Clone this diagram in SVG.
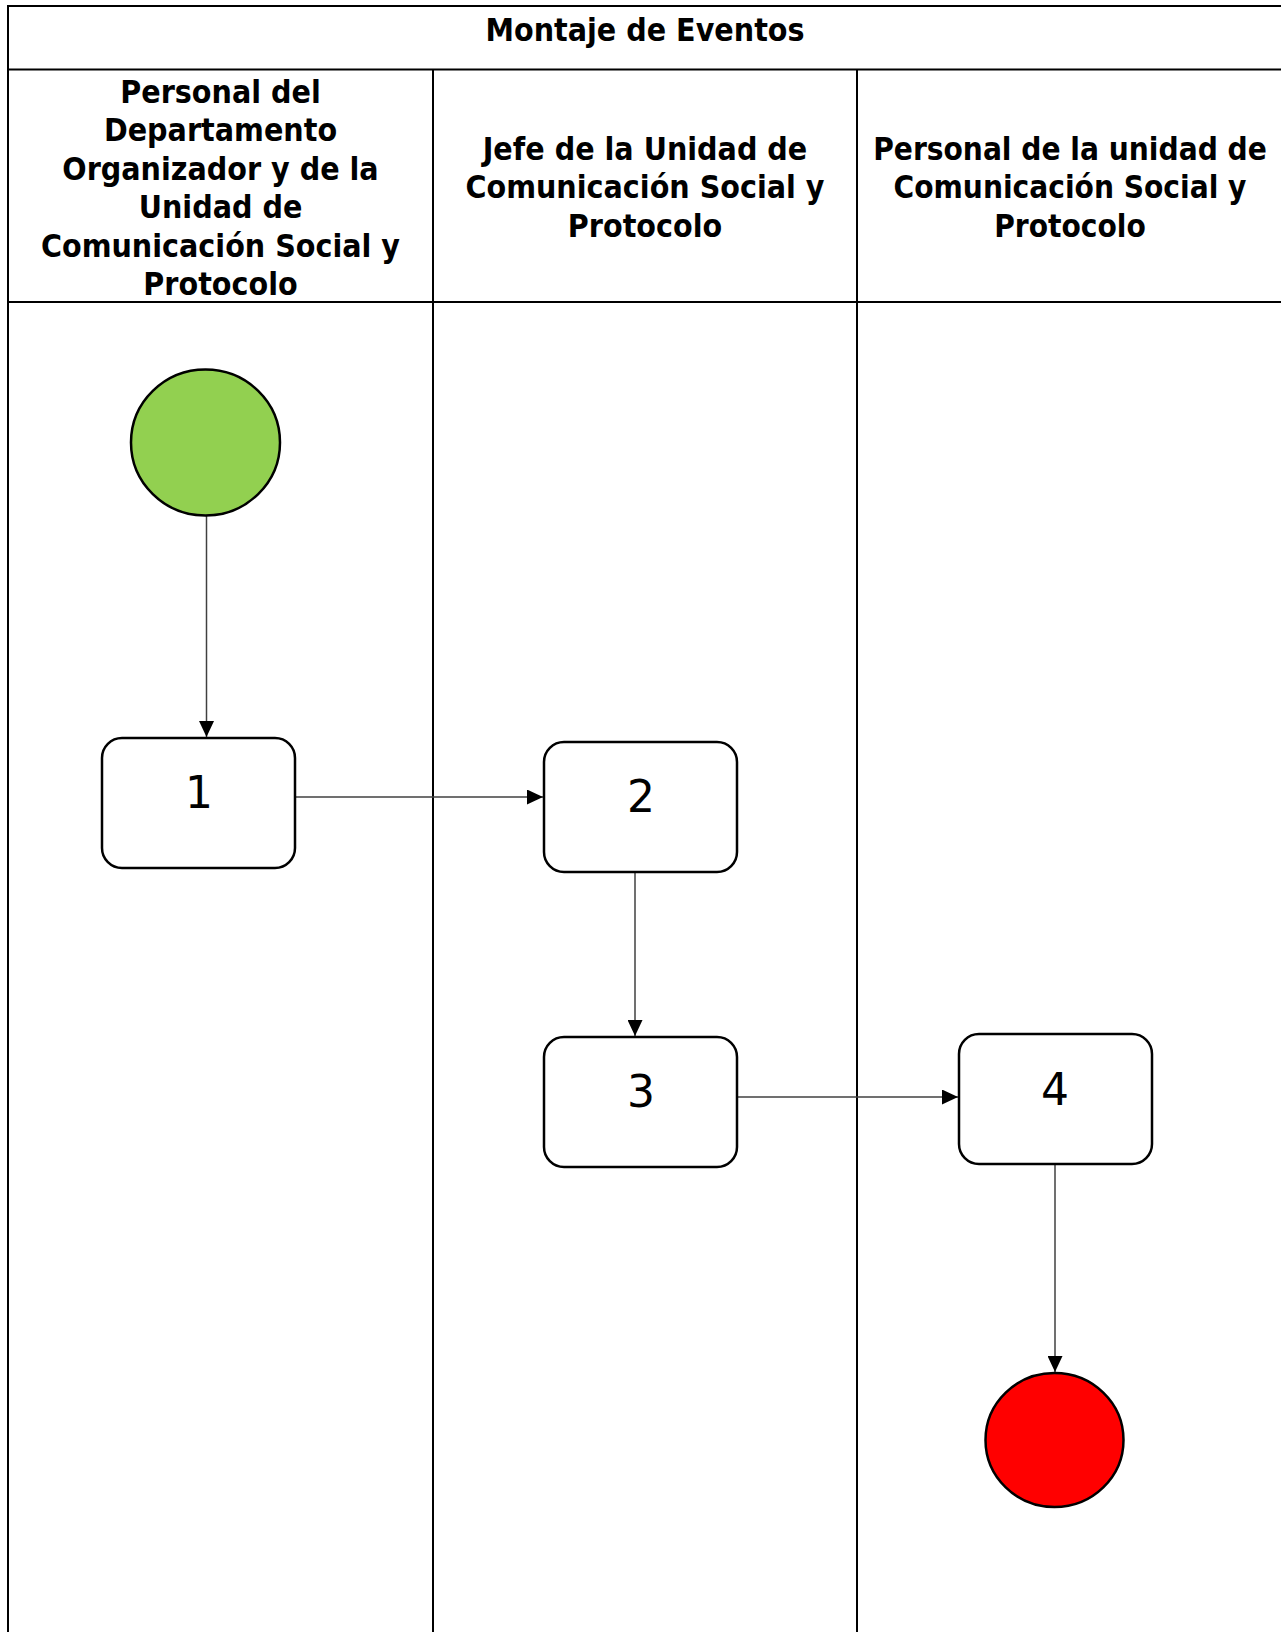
<svg xmlns="http://www.w3.org/2000/svg" width="1281" height="1632" viewBox="0 0 1281 1632">
  <defs>
    <style>
      .grid { stroke: #000; stroke-width: 2; fill: none; }
      .hdr { font-family: "DejaVu Sans", Verdana, sans-serif; font-weight: bold; font-size: 32px; fill: #000; text-anchor: middle; }
      .box { fill: #fff; stroke: #000; stroke-width: 2.5; }
      .num { font-family: "DejaVu Sans", sans-serif; font-size: 44px; fill: #000; text-anchor: middle; }
      .conn { stroke: #404040; stroke-width: 1.5; fill: none; marker-end: url(#arrow); }
    </style>
    <marker id="arrow" markerUnits="userSpaceOnUse" markerWidth="16" markerHeight="15" refX="16" refY="7.5" orient="auto">
      <path d="M0,0 L16,7.5 L0,15 Z" fill="#000"/>
    </marker>
  </defs>

  <rect x="0" y="0" width="1281" height="1632" fill="#fff"/>

  <!-- Swimlane table -->
  <g id="lanes">
    <line class="grid" x1="8" y1="6" x2="1290" y2="6"/>
    <line class="grid" x1="8" y1="5" x2="8" y2="1640"/>
    <line class="grid" x1="8" y1="69.5" x2="1290" y2="69.5"/>
    <line class="grid" x1="8" y1="302" x2="1290" y2="302"/>
    <line class="grid" x1="433" y1="69.5" x2="433" y2="1640"/>
    <line class="grid" x1="857" y1="69.5" x2="857" y2="1640"/>
  </g>

  <g id="title" transform="translate(645,0) scale(0.895,1)">
    <text class="hdr" x="0" y="41">Montaje de Eventos</text>
  </g>

  <g id="lane1-header" transform="translate(220.5,0) scale(0.895,1)">
    <text class="hdr" x="0" y="103">Personal del</text>
    <text class="hdr" x="0" y="141.5">Departamento</text>
    <text class="hdr" x="0" y="180">Organizador y de la</text>
    <text class="hdr" x="0" y="218.5">Unidad de</text>
    <text class="hdr" x="0" y="257">Comunicación Social y</text>
    <text class="hdr" x="0" y="295.5">Protocolo</text>
  </g>

  <g id="lane2-header" transform="translate(645,0) scale(0.895,1)">
    <text class="hdr" x="0" y="160">Jefe de la Unidad de</text>
    <text class="hdr" x="0" y="198.5">Comunicación Social y</text>
    <text class="hdr" x="0" y="237">Protocolo</text>
  </g>

  <g id="lane3-header" transform="translate(1070,0) scale(0.88,1)">
    <text class="hdr" x="0" y="160">Personal de la unidad de</text>
    <text class="hdr" x="0" y="198.5">Comunicación Social y</text>
    <text class="hdr" x="0" y="237">Protocolo</text>
  </g>

  <!-- Connectors -->
  <g id="connectors">
    <line class="conn" x1="206.5" y1="516" x2="206.5" y2="737"/>
    <line class="conn" x1="295" y1="797" x2="543" y2="797"/>
    <line class="conn" x1="635" y1="872" x2="635" y2="1036"/>
    <line class="conn" x1="737" y1="1097" x2="958" y2="1097"/>
    <line class="conn" x1="1055" y1="1164" x2="1055" y2="1372"/>
  </g>

  <!-- Nodes -->
  <g id="start">
    <ellipse cx="205.5" cy="442.5" rx="74.5" ry="73" fill="#92D050" stroke="#000" stroke-width="2.5"/>
  </g>
  <g id="step1">
    <rect class="box" x="102" y="738" width="193" height="130" rx="20" ry="20"/>
    <text class="num" x="199" y="808">1</text>
  </g>
  <g id="step2">
    <rect class="box" x="544" y="742" width="193" height="130" rx="20" ry="20"/>
    <text class="num" x="641" y="811.5">2</text>
  </g>
  <g id="step3">
    <rect class="box" x="544" y="1037" width="193" height="130" rx="20" ry="20"/>
    <text class="num" x="641" y="1106.5">3</text>
  </g>
  <g id="step4">
    <rect class="box" x="959" y="1034" width="193" height="130" rx="20" ry="20"/>
    <text class="num" x="1055" y="1105">4</text>
  </g>
  <g id="end">
    <ellipse cx="1054.5" cy="1440" rx="69" ry="67" fill="#FF0000" stroke="#000" stroke-width="2.5"/>
  </g>
</svg>
